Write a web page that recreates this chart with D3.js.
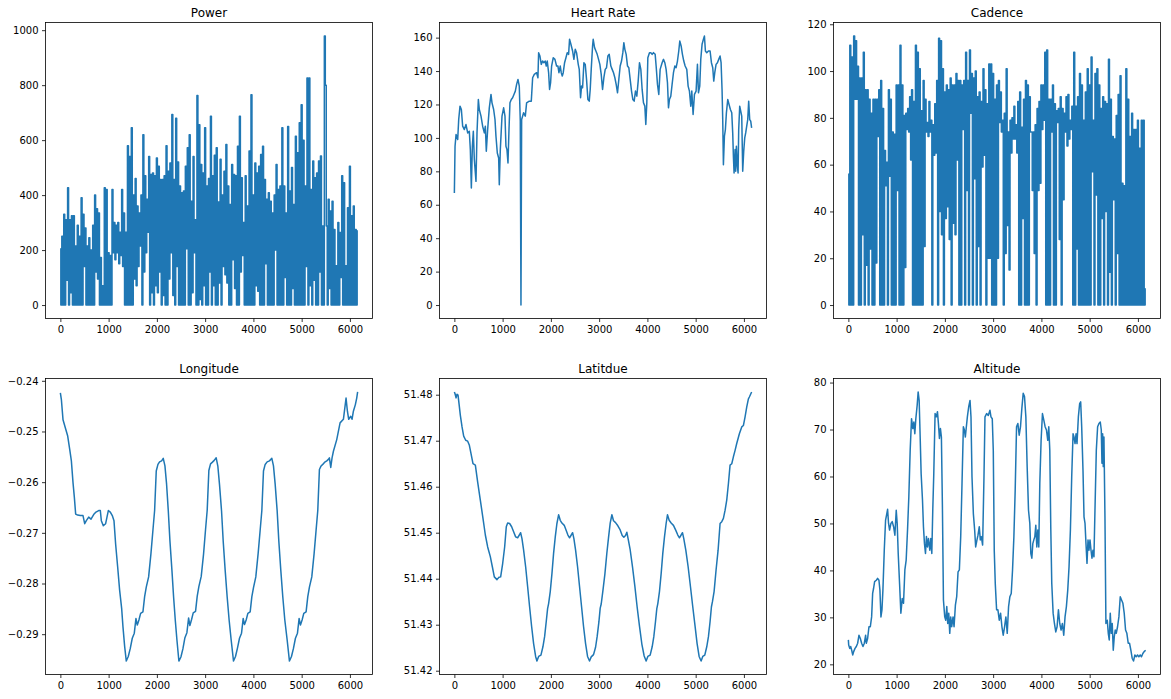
<!DOCTYPE html>
<html lang="en">
<head>
<meta charset="UTF-8">
<title>Ride data</title>
<script src="https://cdn.jsdelivr.net/npm/d3@7"></script>
<style>
  body { margin: 0; background: #fff; }
  svg { display: block; font-family: "DejaVu Sans", sans-serif; }
</style>
</head>
<body>
<div id="chart"></div>
<script>
// ---- data: x is the sample index of the ride ----
// power and cadence are read off as alternating high/low values, one every 20 samples
const noisyStep = 20;

const power = [
  205,0, 250,0, 330,0, 310,90, 427,0, 310,45, 325,0, 325,0, 215,0, 290,0,
  250,0, 390,0, 330,140, 280,0, 215,0, 245,0, 200,0, 290,0, 400,120, 350,95,
  335,0, 173,0, 70,0, 427,0, 420,0, 190,0, 180,0, 420,190, 300,165, 290,190,
  300,150, 265,180, 420,140, 335,0, 265,0, 580,0, 540,0, 645,0, 400,95, 460,70,
  360,140, 335,215, 400,0, 620,120, 470,190, 385,265, 540,0, 475,45, 480,0, 470,70,
  535,45, 505,120, 457,0, 457,35, 470,0, 580,0, 487,95, 517,190, 693,35, 457,0,
  680,140, 520,0, 433,0, 409,0, 415,0, 505,205, 572,0, 620,0, 378,45, 540,190,
  310,0, 762,0, 656,20, 511,0, 480,70, 645,0, 433,0, 460,120, 687,0, 470,70,
  545,0, 572,0, 375,80, 530,0, 400,140, 487,110, 584,80, 433,0, 366,0, 511,165,
  475,60, 470,0, 578,0, 687,120, 463,180, 300,0, 470,0, 360,0, 560,0, 765,0,
  400,0, 517,70, 480,50, 505,0, 548,0, 578,0, 457,150, 385,0, 409,0, 378,0,
  335,0, 400,200, 511,0, 420,0, 433,0, 645,0, 433,100, 335,0, 650,0, 415,0,
  500,60, 366,0, 614,0, 554,0, 663,0, 729,0, 600,0, 433,140, 826,0, 826,70,
  420,0, 524,90, 463,0, 480,0, 524,120, 542,0, 288,0, 979,800, 288,0, 385,60,
  342,0, 378,0, 275,0, 143,0, 300,0, 264,100, 470,0, 445,0, 143,0, 354,0,
  505,0, 325,0, 360,0, 275,0,
  270
];

const cadence = [
  56,0, 111,0, 106,0, 115,88, 113,88, 102,0, 97,0, 97,30, 108,0, 92,17,
  92,0, 88,24, 82,0, 88,0, 88,18, 88,72, 92,0, 96,0, 84,0, 66,51,
  61,0, 92,55, 88,0, 74,0, 73,0, 94,49, 94,0, 111,0, 94,0, 81,16,
  82,75, 84,74, 89,62, 92,0, 87,0, 111,0, 108,0, 101,0, 83,0, 96,25,
  88,74, 78,72, 87,74, 79,0, 77,64, 86,65, 96,0, 114,40, 113,30, 101,0,
  91,37, 94,42, 92,28, 97,0, 94,35, 94,30, 99,62, 96,0, 96,0, 94,75,
  96,0, 108,49, 96,0, 109,82, 99,0, 97,54, 100,0, 89,25, 91,0, 87,59,
  101,64, 92,0, 86,20, 103,20, 103,0, 99,0, 88,0, 94,20, 96,78, 91,74,
  79,0, 82,22, 101,34, 74,15, 79,65, 80,71, 85,71, 77,65, 87,0, 91,0,
  76,37, 88,0, 96,0, 94,0, 89,74, 74,49, 74,22, 77,0, 84,49, 87,52,
  94,75, 94,79, 108,0, 109,0, 88,0, 88,74, 94,0, 86,0, 83,78, 84,28,
  89,0, 84,45, 82,74, 89,68, 90,71, 79,75, 85,0, 108,0, 85,24, 89,0,
  99,0, 94,0, 79,0, 91,0, 101,0, 94,0, 106,57, 79,0, 99,47, 101,0,
  94,0, 84,37, 89,0, 87,40, 86,0, 105,14, 88,0, 72,45, 71,0, 81,22,
  90,0, 98,0, 52,0, 51,0, 101,0, 88,0, 72,0, 82,0, 75,0, 75,0,
  79,0, 67,0, 79,0, 79,0,
  7
];

const hrTime = [
  0,14,35,69,90,117,145,172,207,241,
  276,310,331,352,373,393,414,448,469,497,
  517,552,586,621,642,662,690,724,759,780,
  814,842,862,890,918,931,952,987,1021,1049,
  1069,1090,1111,1132,1152,1180,1207,1235,1263,1290,
  1318,1345,1366,1380,1394,1414,1435,1470,1497,1552,
  1594,1622,1656,1704,1732,1746,1773,1801,1829,1856,
  1884,1904,1925,1953,1973,1994,2015,2049,2084,2118,
  2146,2167,2194,2215,2236,2256,2284,2312,2339,2367,
  2387,2415,2450,2477,2505,2532,2567,2588,2615,2636,
  2657,2684,2712,2739,2767,2795,2815,2836,2864,2877,
  2905,2933,2960,2988,3015,3043,3071,3098,3126,3153,
  3181,3209,
  3243,3270,3298,3326,3353,3381,3408,3436,3464,3491,
  3512,3533,3560,3588,3615,3643,3671,3698,3726,3753,
  3781,3809,3836,3864,3891,3919,3947,3967,3988,4009,
  4043,4071,4098,4126,4161,4181,4209,4236,4264,4305,
  4333,4361,4388,4416,4437,4457,4485,4512,4540,4568,
  4595,4623,4650,4671,4699,4726,4754,4782,4816,4844,
  4871,4899,4920,4947,4975,5009,5037,5058,5085,5106,
  5133,5161,5182,5202,5230,5265,5299,5327,5354,5375,
  5396,5423,5451,5478,5506,5527,5547,5561,5575,5596,
  5616,5637,5665,5692,5720,5748,5768,5782,5796,5817,
  5830,5844,5865,5879,5892,5913,5934,5955,5975,5996,
  6017,6037,6058,6079,6099,6120,6141,6160
];
const heartRate = [
  67,95,102,99,111,119,117,107,105,108,
  103,104,93,70,95,104,87,74,103,123,
  117,113,107,103,107,92,105,118,126,121,
  117,111,101,91,88,72,93,113,118,113,
  95,93,85,105,121,123,124,126,128,132,
  135,131,110,0,111,113,115,113,121,122,
  122,136,138,139,136,151,149,144,146,145,
  146,143,146,139,129,133,143,148,147,143,
  143,139,143,139,137,139,145,148,151,150,
  159,156,152,147,153,151,144,141,124,131,
  130,145,144,135,123,122,129,141,155,159,
  154,152,150,147,144,138,129,136,141,142,
  149,150,
  143,141,139,136,132,127,135,143,146,151,
  157,153,150,143,142,135,128,123,122,128,
  125,134,145,141,129,121,119,108,121,148,
  151,151,150,151,150,143,132,126,141,145,
  147,145,141,133,118,123,125,132,139,143,
  142,146,152,158,155,150,146,143,141,131,
  128,119,128,114,126,128,144,127,131,147,
  156,159,161,152,151,152,152,145,142,134,
  139,144,145,147,149,145,129,111,84,101,
  105,115,123,120,117,115,103,89,79,93,
  80,95,83,79,105,119,116,113,80,92,
  100,103,107,111,122,111,110,106
];

const lonTime = [
  0,21,55,104,152,193,228,262,290,317,
  359,414,469,504,538,587,635,690,738,794,
  828,849,890,938,966,994,1035,1076,1111,1145,
  1187,1228,1270,1297,1332,1366,
  1407,1449,1490,1532,1566,1594,1628,1663,1711,1746,
  1780,1829,1877,1918,1953,1987,2022,2056,2098,2132,
  2167,2201,2236,2270,2312,2346,2381,2415,2456,
  2498,2539,2581,2622,2657,2684,2719,2753,2801,2836,
  2870,2919,2967,3008,3043,3077,3112,3146,3188,3229,
  3264,3298,3340,3374,3416,3457,3498,3540,3588,
  3629,3671,3712,3754,3788,3816,3850,3885,3933,3968,
  4002,4050,4099,4140,4175,4209,4244,4285,4333,4382,
  4416,4451,4492,4526,4568,4609,4651,4699,4747,
  4789,4830,4871,4913,4947,4975,5009,5044,5092,5127,
  5161,5210,5258,5299,5334,5368,5403,5437,5472,5520,
  5555,5575,5603,5630,5658,5727,5796,5865,5920,5948,
  5975,6017,6044,6072,6113,6141,6160
];
const longitude = [
  -0.2424,-0.2437,-0.2477,-0.2493,-0.2509,-0.2535,-0.2558,-0.2601,-0.2630,-0.2663,
  -0.2665,-0.2666,-0.2666,-0.2682,-0.2676,-0.2669,-0.2673,-0.2664,-0.2659,-0.2656,
  -0.2656,-0.2676,-0.2686,-0.2682,-0.2669,-0.2656,-0.2659,-0.2666,-0.2676,-0.2722,
  -0.2767,-0.2813,-0.2849,-0.2885,-0.2924,-0.2953,
  -0.2944,-0.2928,-0.2908,-0.2898,-0.2869,-0.2882,-0.2872,-0.2859,-0.2856,-0.2826,
  -0.2807,-0.2787,-0.2741,-0.2695,-0.2656,-0.2578,-0.2565,-0.2560,-0.2558,-0.2553,
  -0.2568,-0.2604,-0.2656,-0.2715,-0.2774,-0.2826,-0.2872,-0.2911,-0.2953,
  -0.2945,-0.2929,-0.2907,-0.2897,-0.2868,-0.2883,-0.2871,-0.2858,-0.2855,-0.2825,
  -0.2806,-0.2786,-0.2742,-0.2694,-0.2655,-0.2577,-0.2564,-0.2561,-0.2557,-0.2552,
  -0.2569,-0.2605,-0.2657,-0.2716,-0.2775,-0.2827,-0.2873,-0.2912,-0.2953,
  -0.2944,-0.2927,-0.2908,-0.2898,-0.2869,-0.2881,-0.2872,-0.2859,-0.2856,-0.2826,
  -0.2808,-0.2787,-0.2740,-0.2695,-0.2656,-0.2578,-0.2565,-0.2560,-0.2558,-0.2553,
  -0.2568,-0.2604,-0.2656,-0.2715,-0.2774,-0.2826,-0.2872,-0.2911,-0.2953,
  -0.2944,-0.2928,-0.2908,-0.2898,-0.2869,-0.2882,-0.2872,-0.2859,-0.2856,-0.2826,
  -0.2807,-0.2787,-0.2741,-0.2695,-0.2656,-0.2575,-0.2568,-0.2565,-0.2561,-0.2558,
  -0.2555,-0.2552,-0.2571,-0.2552,-0.2539,-0.2516,-0.2483,-0.2476,-0.2434,-0.2460,
  -0.2476,-0.2470,-0.2476,-0.2460,-0.2447,-0.2434,-0.2422
];

const latTime = [
  0,14,35,55,76,97,124,159,193,235,
  276,311,345,386,435,483,538,593,642,690,
  745,787,828,883,925,959,1001,1042,1076,1104,
  1145,1187,1228,1270,1311,1346,1373,1401,1435,1477,
  1518,1559,1601,1642,1684,1711,
  1746,1794,1835,1870,1904,1932,1953,1987,2022,2056,2091,2125,2160,
  2194,2229,2277,2318,2353,2387,2422,2450,2477,2512,2553,2594,2636,2677,2719,2760,2801,
  2836,2884,2926,2960,2995,3022,3043,3077,3119,3160,3195,3229,3264,
  3298,3340,3388,3436,3478,3512,3547,3574,3602,3643,3692,3740,3788,3836,3885,3933,3974,
  4009,4057,4099,4133,4168,4195,4216,4250,4285,4319,4354,4388,4416,
  4451,4492,4540,4589,4630,4664,4699,4727,4754,4796,4844,4892,4940,4989,5030,5072,5113,
  5147,5189,5230,5265,5299,5327,5348,5382,5423,5465,
  5506,5541,5575,5610,5644,5679,5713,5748,5782,5817,
  5851,5906,5955,5989,6024,6058,6093,6113,6160
];
const latitude = [
  51.4806,51.4802,51.4793,51.4801,51.4799,51.4780,51.4755,51.4730,51.4710,51.4701,
  51.4699,51.4690,51.4672,51.4650,51.4647,51.4610,51.4571,51.4531,51.4495,51.4469,
  51.4448,51.4426,51.4404,51.4398,51.4403,51.4404,51.4433,51.4469,51.4513,51.4521,
  51.4520,51.4513,51.4502,51.4491,51.4489,51.4495,51.4500,51.4487,51.4462,51.4426,
  51.4383,51.4339,51.4296,51.4259,51.4231,51.4221,
  51.4231,51.4234,51.4252,51.4274,51.4307,51.4335,51.4346,51.4372,51.4411,51.4455,51.4491,51.4520,51.4539,
  51.4527,51.4521,51.4516,51.4505,51.4495,51.4489,51.4495,51.4500,51.4487,51.4462,51.4426,51.4383,51.4339,51.4296,51.4259,51.4231,51.4221,
  51.4230,51.4235,51.4251,51.4275,51.4306,51.4336,51.4345,51.4373,51.4410,51.4456,51.4490,51.4521,51.4539,
  51.4526,51.4522,51.4515,51.4506,51.4494,51.4490,51.4494,51.4501,51.4486,51.4463,51.4425,51.4384,51.4338,51.4297,51.4258,51.4232,51.4221,
  51.4231,51.4234,51.4252,51.4274,51.4307,51.4335,51.4346,51.4372,51.4411,51.4455,51.4491,51.4520,51.4539,
  51.4527,51.4521,51.4516,51.4505,51.4495,51.4489,51.4495,51.4500,51.4487,51.4462,51.4426,51.4383,51.4339,51.4296,51.4259,51.4231,51.4221,
  51.4231,51.4234,51.4252,51.4274,51.4307,51.4339,51.4350,51.4372,51.4419,51.4462,
  51.4520,51.4524,51.4531,51.4549,51.4571,51.4607,51.4647,51.4650,51.4665,51.4679,
  51.4694,51.4715,51.4730,51.4733,51.4752,51.4773,51.4791,51.4795,51.4806
];

const altTime = [
  0,7,28,48,69,90,110,138,165,193,
  220,248,275,303,331,358,372,399,427,455,
  482,503,523,544,579,606,634,654,675,696,
  716,744,771,792,813,833,854,882,909,937,
  964,992,1012,1033,1061,1088,1116,1143,1171,1198,
  1226,1253,1281,1309,1336,1357,1377,1398,1426,1446,
  1467,1488,1508,1536,1556,1577,1598,1618,1639,1660,
  1687,1708,1729,1749,1770,1797,1825,1846,1866,1887,
  1908,1928,1949,1970,1997,2018,2039,2059,2080,2101,
  2121,2142,2169,2190,2218,2245,2273,2300,2328,2355,
  2383,2404,2424,2445,2466,2493,2521,2541,2562,2590,
  2617,2638,2665,2686,2713,2734,2755,2782,2810,2831,
  2865,2899,2934,2955,2982,3003,3023,3044,3072,3099,
  3127,3154,3182,3209,3237,3264,3292,3320,3347,3375,
  3402,3430,3457,3485,3512,3540,3567,3595,3623,3650,
  3678,3705,3733,3760,3781,3802,3822,3843,3864,3884,
  3905,3926,3946,3967,3994,4022,4050,4077,4105,4132,
  4153,4174,4194,4215,4243,4270,4298,4325,4353,4380,
  4408,4435,4463,4490,4518,4546,4573,4601,4628,4656,
  4676,4697,4718,4738,4766,4793,4814,4835,4862,4883,
  4904,4924,4945,4966,4986,5007,5028,5048,5069,5089,
  5110,5138,5165,5193,5220,5241,5255,5269,5282,5296,
  5317,5337,5365,5386,5406,5427,5448,5468,5489,5510,
  5530,5551,5578,5606,5634,5661,5689,5716,5744,5771,
  5799,5826,5854,5881,5909,5937,5964,5992,6019,6047,
  6074,6102,6129,6160
];
const altitude = [
  25.2,24.1,23.4,23.8,23.0,22.0,22.7,23.4,23.8,24.5,
  26.2,25.5,24.5,23.8,24.5,26.2,24.5,25.5,28.0,28.0,
  30.1,35.1,36.2,37.6,37.9,38.3,37.9,35.8,30.1,31.6,
  35.8,44.3,50.7,51.8,53.0,50.0,48.6,50.0,50.4,49.3,
  47.5,52.8,50.0,43.6,37.2,30.9,34.0,33.0,40.1,42.2,
  48.6,55.7,65.6,72.3,70.2,71.6,69.1,72.3,75.2,78.0,
  76.2,68.4,60.6,55.0,49.3,45.7,43.6,47.2,45.0,46.8,
  44.3,46.8,43.6,52.8,60.6,73.4,72.7,73.8,71.3,68.1,
  70.2,68.4,53.5,33.7,30.1,29.4,32.3,28.7,30.9,26.6,
  30.1,28.0,30.1,28.0,32.6,34.4,39.7,40.1,47.2,58.5,
  70.6,69.9,68.4,70.6,72.7,74.8,76.2,72.7,59.9,52.1,
  48.6,45.0,46.5,47.5,49.3,46.5,47.2,45.4,59.9,72.7,
  73.4,73.0,74.1,72.7,72.3,65.6,44.3,37.2,31.6,31.6,
  29.4,30.9,28.0,26.2,28.0,30.1,26.6,32.3,34.4,35.1,
  40.1,47.2,57.1,70.6,71.3,68.8,70.6,74.5,77.7,77.0,
  72.7,62.1,52.8,50.0,43.6,42.6,45.7,46.5,47.2,49.6,
  45.0,48.6,45.0,58.5,67.7,73.4,72.0,70.6,69.9,67.7,
  70.6,65.6,49.3,37.2,30.9,28.7,26.9,28.0,31.6,28.7,
  27.3,28.7,26.2,30.1,32.3,35.8,40.8,48.6,59.9,69.1,
  68.4,67.0,69.1,67.0,72.7,75.5,75.9,70.6,61.3,51.4,
  50.0,45.7,41.5,46.5,44.3,46.5,44.3,42.6,44.3,42.9,
  52.8,65.6,70.6,71.3,71.6,69.9,62.8,69.1,62.1,68.4,
  51.4,28.7,29.4,26.6,25.2,30.9,26.6,28.7,23.0,25.9,
  27.3,26.6,28.0,30.1,34.4,33.7,33.0,30.9,27.3,26.6,
  24.5,24.5,23.0,21.3,20.7,22.0,21.6,22.0,21.6,22.0,
  21.6,22.3,22.7,23.0
];

const xTicks = [0, 1000, 2000, 3000, 4000, 5000, 6000];
const powerTicks = [0, 200, 400, 600, 800, 1000];
const hrTicks = [0, 20, 40, 60, 80, 100, 120, 140, 160];
const cadenceTicks = [0, 20, 40, 60, 80, 100, 120];
const lonTicks = [-0.29, -0.28, -0.27, -0.26, -0.25, -0.24];
const latTicks = [51.42, 51.43, 51.44, 51.45, 51.46, 51.47, 51.48];
const altTicks = [20, 30, 40, 50, 60, 70, 80];

// ---- layout ----
const width = 1171, height = 699;
const colX = [45.5, 439.5, 833.5];
const rowY = [22.5, 378.5];
const panelW = 327, panelH = 296;
const lineColor = "#1f77b4";

const stepIndex = arr => arr.map((_, i) => i * noisyStep);
const intFmt = d3.format("d");
const decFmt = d3.format(".2f");

// the dense 1 Hz series fill every pixel column between their highs and lows,
// so they are drawn as steps; the smooth ones as plain segments
const panels = [
  { title: "Power", time: stepIndex(power), values: power, ticks: powerTicks, fmt: intFmt, curve: d3.curveStep },
  { title: "Heart Rate", time: hrTime, values: heartRate, ticks: hrTicks, fmt: intFmt, curve: d3.curveLinear },
  { title: "Cadence", time: stepIndex(cadence), values: cadence, ticks: cadenceTicks, fmt: intFmt, curve: d3.curveStep },
  { title: "Longitude", time: lonTime, values: longitude, ticks: lonTicks, fmt: decFmt, curve: d3.curveLinear },
  { title: "Latitdue", time: latTime, values: latitude, ticks: latTicks, fmt: decFmt, curve: d3.curveLinear },
  { title: "Altitude", time: altTime, values: altitude, ticks: altTicks, fmt: intFmt, curve: d3.curveLinear }
];

// matplotlib style 5% margin around the data
function padded(ext) {
  const m = (ext[1] - ext[0]) * 0.05;
  return [ext[0] - m, ext[1] + m];
}

const svg = d3.select("#chart")
  .append("svg")
  .attr("width", width)
  .attr("height", height);

svg.append("rect").attr("width", width).attr("height", height).attr("fill", "#fff");

panels.forEach((p, k) => {
  const pts = d3.zip(p.time, p.values);
  const x = d3.scaleLinear().domain(padded(d3.extent(p.time))).range([0, panelW]);
  const y = d3.scaleLinear().domain(padded(d3.extent(p.values))).range([panelH, 0]);

  const g = svg.append("g")
    .attr("transform", `translate(${colX[k % 3]},${rowY[Math.floor(k / 3)]})`);

  g.append("path")
    .datum(pts)
    .attr("fill", "none")
    .attr("stroke", lineColor)
    .attr("stroke-width", 1.5)
    .attr("stroke-linejoin", "round")
    .attr("d", d3.line().curve(p.curve).x(d => x(d[0])).y(d => y(d[1])));

  const styleAxis = sel => {
    sel.select(".domain").remove();
    sel.attr("font-family", "DejaVu Sans, sans-serif").attr("font-size", 10);
    sel.selectAll(".tick line").attr("stroke", "#000").attr("stroke-width", 0.8);
    sel.selectAll(".tick text").attr("fill", "#000");
  };

  g.append("g")
    .attr("transform", `translate(0,${panelH})`)
    .call(d3.axisBottom(x).tickValues(xTicks).tickFormat(intFmt)
      .tickSize(3.5).tickPadding(3.5).tickSizeOuter(0))
    .call(styleAxis);

  g.append("g")
    .call(d3.axisLeft(y).tickValues(p.ticks).tickFormat(p.fmt)
      .tickSize(3.5).tickPadding(3.5).tickSizeOuter(0))
    .call(styleAxis);

  // axes frame
  g.append("rect")
    .attr("width", panelW)
    .attr("height", panelH)
    .attr("fill", "none")
    .attr("stroke", "#000")
    .attr("stroke-width", 0.8);

  g.append("text")
    .attr("x", panelW / 2)
    .attr("y", -6)
    .attr("text-anchor", "middle")
    .attr("font-size", 12)
    .attr("fill", "#000")
    .text(p.title);
});
</script>
</body>
</html>
